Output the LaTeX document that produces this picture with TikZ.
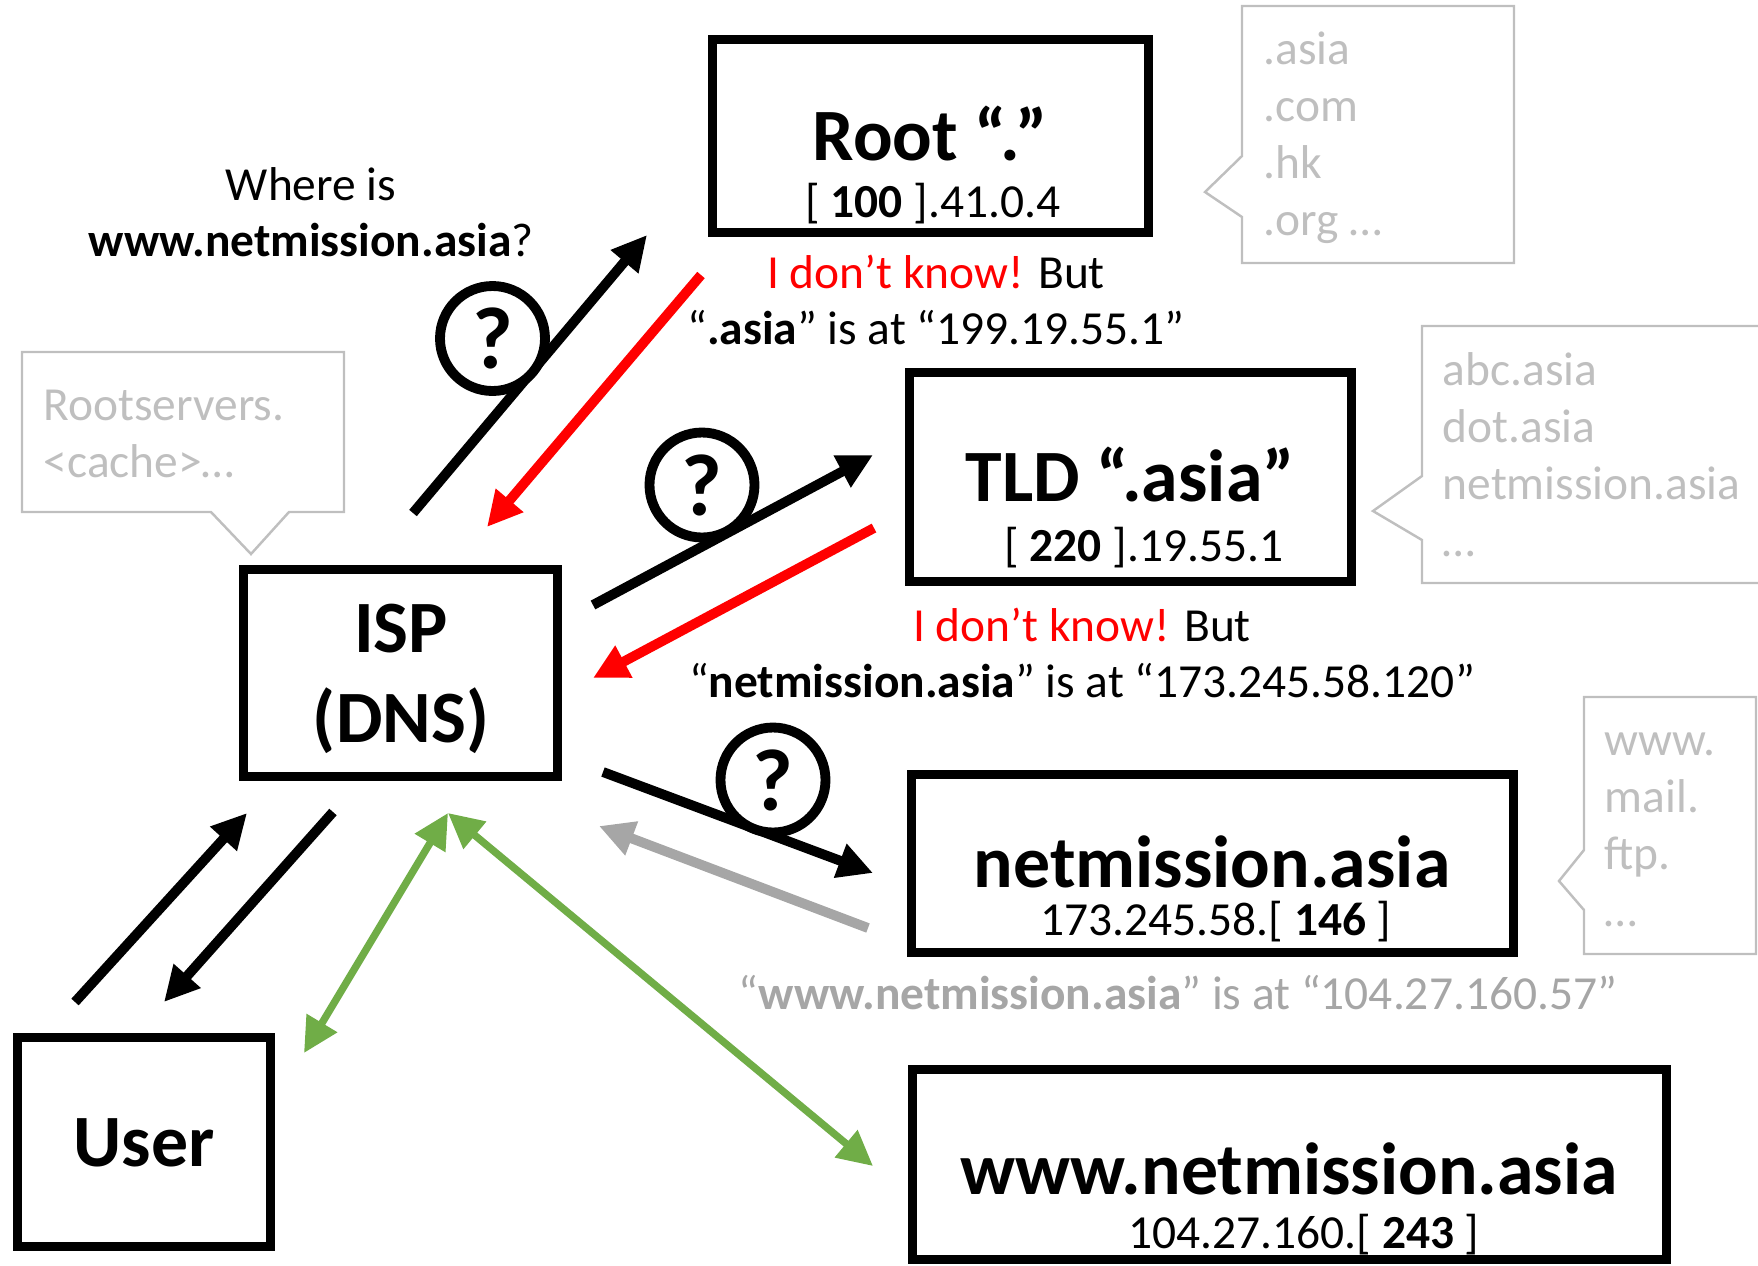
\documentclass[tikz,border=0pt]{standalone}
\usepackage{fontspec}
\setmainfont{Carlito}
\usetikzlibrary{arrows.meta,positioning,calc}

\definecolor{dnsgreen}{HTML}{70AD47}
\definecolor{answergray}{HTML}{A6A6A6}
\definecolor{listgray}{HTML}{BFBFBF}

\begin{document}
\begin{tikzpicture}[
    x=0.1mm, y=-0.1mm,
    box/.style={rectangle, draw, line width=2.3pt, inner sep=0pt},
    title/.style={font=\fontsize{21}{25.6}\selectfont\bfseries, inner sep=0pt, align=center},
    addr/.style={font=\fontsize{13.5}{16}\selectfont, inner sep=0pt},
    note/.style={font=\fontsize{13.5}{15.8}\selectfont, inner sep=0pt, align=center},
    list/.style={font=\fontsize{13.5}{16.2}\selectfont, text=listgray, inner sep=0pt, align=left},
    bubble/.style={draw=listgray, line width=0.7pt},
    ask/.style={circle, draw, fill=white, line width=2.8pt, minimum size=10.5mm, inner sep=0pt, font=\fontsize{25}{30}\selectfont\bfseries},
    arrow/.style={-{Triangle[length=3.5mm, width=3.4mm]}, line width=2.8pt},
    both/.style={{Triangle[length=3.5mm, width=3.4mm]}-{Triangle[length=3.5mm, width=3.4mm]}, line width=2.1pt, dnsgreen}
]
\useasboundingbox (0,0) rectangle (1758,1265);

% Servers
\node[box, minimum width=43.6mm, minimum height=19.3mm] (root) at (930.5,136) {};
\node[title, anchor=base] (roottitle) at (930,160) {Root “.”};
\node[addr, anchor=base] (rootaddr) at (933,217) {[ \textbf{100} ].41.0.4};

\node[box, minimum width=44.2mm, minimum height=20.9mm] (tld) at (1130.5,477) {};
\node[title, anchor=base] (tldtitle) at (1130,501) {TLD “.asia”};
\node[addr, anchor=base] (tldaddr) at (1144,561) {[ \textbf{220} ].19.55.1};

\node[box, minimum width=60.2mm, minimum height=17.8mm] (netm) at (1212.5,863.5) {};
\node[title, anchor=base] (netmtitle) at (1212,887) {netmission.asia};
\node[addr, anchor=base] (netmaddr) at (1216,935) {173.245.58.[ \textbf{146} ]};

\node[box, minimum width=75.4mm, minimum height=19mm] (www) at (1289.5,1164.5) {};
\node[title, anchor=base] (wwwtitle) at (1289,1194) {www.netmission.asia};
\node[addr, anchor=base] (wwwaddr) at (1304,1248) {104.27.160.[ \textbf{243} ]};

% Resolver and user
\node[box, minimum width=31.4mm, minimum height=20.7mm] (isp) at (400.5,673) {};
\node[title, anchor=base] (isptitle) at (401,742) {ISP\\(DNS)};

\node[box, minimum width=25.3mm, minimum height=20.9mm] (user) at (144,1142) {};
\node[title, anchor=base] (usertitle) at (144,1166) {User};

% Grey lists (anchored at the last line)
\draw[bubble] (22,352) -- (344,352) -- (344,512) -- (289,512) -- (251,554) -- (211,512) -- (22,512) -- cycle;
\node[list, anchor=base west] (cachelist) at (43,477) {Rootservers.\\<cache>…};

\draw[bubble] (1242,6) -- (1514,6) -- (1514,263) -- (1242,263) -- (1242,217) -- (1205,192) -- (1242,156) -- cycle;
\node[list, anchor=base west] (rootlist) at (1263,235) {.asia\\.com\\.hk\\.org …};

\draw[bubble] (1422,326) -- (1765,326) -- (1765,583) -- (1422,583) -- (1422,540) -- (1373,511) -- (1422,476) -- cycle;
\node[list, anchor=base west] (tldlist) at (1442,556) {abc.asia\\dot.asia\\netmission.asia\\…};

\draw[bubble] (1584,697) -- (1756,697) -- (1756,954) -- (1584,954) -- (1584,910) -- (1559,881) -- (1584,850) -- cycle;
\node[list, anchor=base west] (netmlist) at (1604,926) {www.\\mail.\\ftp.\\…};

% Texts
\node[note, anchor=base] (where) at (311,256) {Where is\\\textbf{www.netmission.asia}?};
\node[note, anchor=base] (rootreply) at (936,344) {{\color{red}I don’t know!} But\\“\textbf{.asia}” is at “199.19.55.1”};
\node[note, anchor=base] (tldreply) at (1082,697) {{\color{red}I don’t know!} But\\“\textbf{netmission.asia}” is at “173.245.58.120”};
\node[note, anchor=base, text=answergray] (netmreply) at (1178,1009) {“\textbf{www.netmission.asia}” is at “104.27.160.57”};

% Arrow end points
\coordinate (askroot0) at (413,513);   \coordinate (askroot1) at (647,235);
\coordinate (rootans0) at (701,275);   \coordinate (rootans1) at (487,527);
\coordinate (asktld0) at (593,605);    \coordinate (asktld1) at (873,455);
\coordinate (tldans0) at (874,528);    \coordinate (tldans1) at (593,678);
\coordinate (asknetm0) at (603,772);   \coordinate (asknetm1) at (873,873);
\coordinate (netmans0) at (868,928);   \coordinate (netmans1) at (599,826);
\coordinate (userask0) at (75,1002);   \coordinate (userask1) at (247,813);
\coordinate (userans0) at (333,812);   \coordinate (userans1) at (164,1002);
\coordinate (ispfoot) at (448,813);
\coordinate (usergo) at (304,1053);
\coordinate (wwwgo) at (873,1166);

% Arrows
\draw[arrow] (askroot0) -- (askroot1);
\draw[arrow, red] (rootans0) -- (rootans1);
\draw[arrow] (asktld0) -- (asktld1);
\draw[arrow, red] (tldans0) -- (tldans1);
\draw[arrow] (asknetm0) -- (asknetm1);
\draw[arrow, answergray] (netmans0) -- (netmans1);
\draw[arrow] (userask0) -- (userask1);
\draw[arrow] (userans0) -- (userans1);
\draw[both] (usergo) -- (ispfoot);
\draw[both] (ispfoot) -- (wwwgo);

% Question marks
\node[ask] (q1) at (492.5,338.5) {?};
\node[ask] (q2) at (702,485) {?};
\node[ask] (q3) at (773,780) {?};

\end{tikzpicture}
\end{document}
